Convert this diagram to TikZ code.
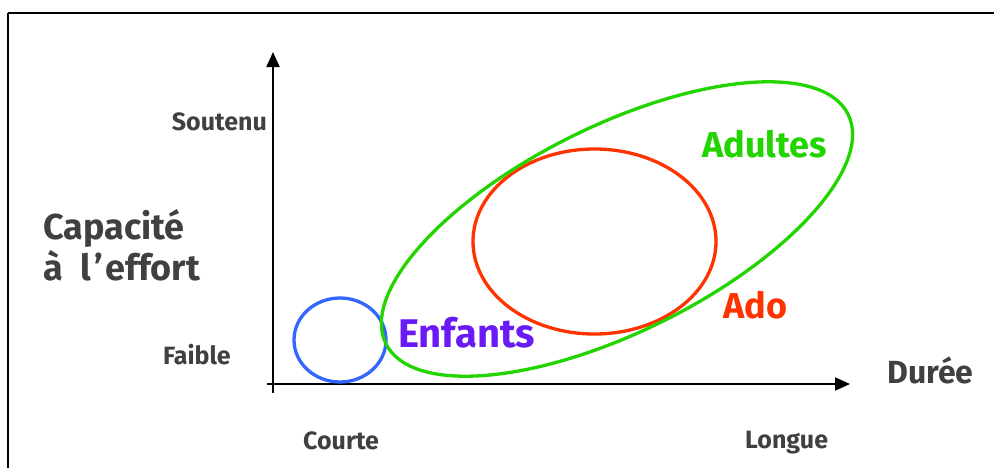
\documentclass[tikz,border=0pt]{standalone}
\usepackage{fontspec}
\setmainfont{Fira Sans}
\usetikzlibrary{arrows.meta}
\definecolor{txtgray}{HTML}{404040}
\definecolor{cgreen}{HTML}{22D400}
\definecolor{cred}{HTML}{FF3300}
\definecolor{cblue}{HTML}{3366FF}
\definecolor{cpurple}{HTML}{6A1BF5}
\tikzset{
  axis/.style={line width=2pt, black},
  axisarrow/.style={axis, -{Triangle[length=15pt,width=13pt]}},
  curve/.style={line width=3.3pt},
  small/.style={text=txtgray, font=\bfseries\fontsize{25}{28}\selectfont, inner sep=0pt},
  big/.style={text=txtgray, font=\bfseries\fontsize{32}{36}\selectfont, inner sep=0pt},
  bigger/.style={text=txtgray, font=\bfseries\fontsize{36}{40}\selectfont, inner sep=0pt},
  group/.style={font=\bfseries\fontsize{36}{40}\selectfont, inner sep=0pt},
}
\begin{document}
\begin{tikzpicture}[x=1pt,y=-1pt]
\useasboundingbox (0,0) rectangle (994,467);
\clip (0,0) rectangle (994,467);
\fill[white] (0,0) rectangle (994,467);
% frame
\draw[line width=1.6pt] (8,13) -- (1010,13);
\draw[line width=1.6pt] (8,13) -- (8,480);
% axes
\coordinate (yb) at (273,393);
\coordinate (yt) at (273,52);
\coordinate (xl) at (267,384);
\coordinate (xr) at (850,384);
\draw[axisarrow] (yb) -- (yt);
\draw[axisarrow] (xl) -- (xr);
% curves
\draw[curve, cblue] (340,340) ellipse [x radius=46, y radius=42];
\draw[curve, cred] (594.5,241.5) ellipse [x radius=121.5, y radius=92.5];
\coordinate (gc) at (617,229);
\draw[curve, cgreen, rotate around={26.4:(gc)}] (gc) ellipse [x radius=258, y radius=103];
% labels
\node[small, anchor=base east] (soutenu) at (267,130) {Soutenu};
\node[small, anchor=base west] (faible) at (163,364) {Faible};
\node[small, anchor=base west] (courte) at (303,449) {Courte};
\node[small, anchor=base west] (longue) at (745,448) {Longue};
\node[bigger, anchor=base west] (cap1) at (43,239) {Capacité};
\node[bigger, anchor=base west] (cap2) at (43,280) {à\hspace{0.5em}l\hspace{0.08em}’\hspace{0.06em}effort};
\node[big, anchor=base west] (duree) at (887,383) {Durée};
\node[group, text=cgreen, anchor=base west] (adultes) at (702,157) {Adultes};
\node[group, text=cred, anchor=base west] (ado) at (723,318) {Ado};
\node[group, text=cpurple, anchor=base west, font=\bfseries\fontsize{40}{44}\selectfont] (enfants) at (398,347) {Enfants};
\end{tikzpicture}
\end{document}
